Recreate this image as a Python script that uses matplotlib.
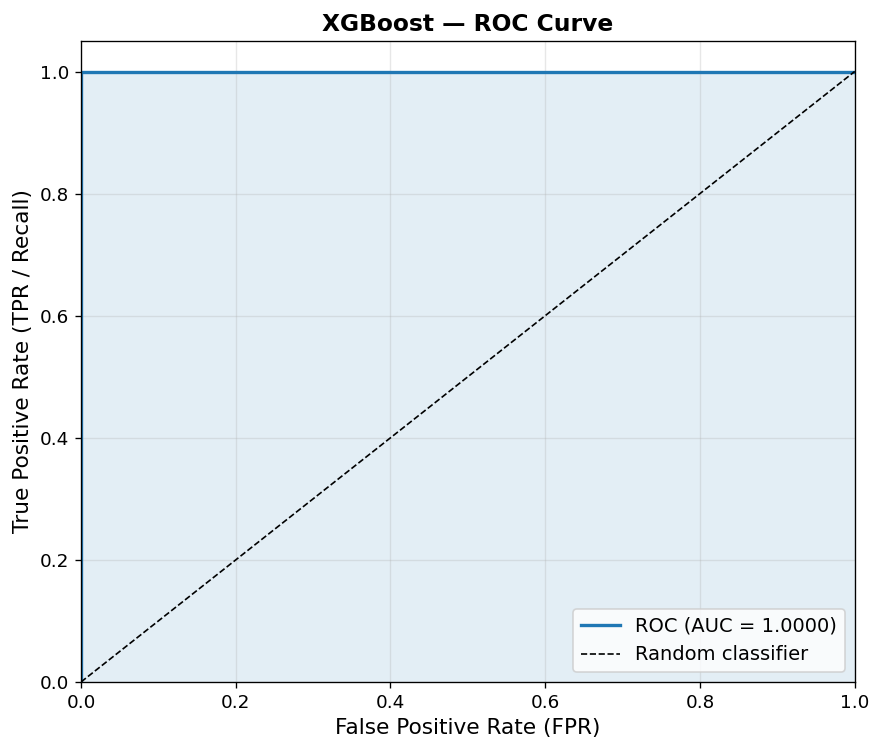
import matplotlib
matplotlib.use("Agg")
import matplotlib.pyplot as plt

fpr = [0.0, 0.0, 1.0]
tpr = [0.0, 1.0, 1.0]
diag_x = [0.0, 1.0]
diag_y = [0.0, 1.0]
auc = 1.0
ticks = [0.0, 0.2, 0.4, 0.6, 0.8, 1.0]

fig = plt.figure(figsize=(8.73 / 1.2, 7.4 / 1.2), dpi=120)
ax = fig.add_axes([0.0928, 0.0784, 0.8862, 0.8662])

ax.plot(fpr, tpr, color="#1f77b4", lw=2, label=f"ROC (AUC = {auc:.4f})")
ax.fill_between(fpr, tpr, color="#1f77b4", alpha=0.12, linewidth=0)
ax.plot(diag_x, diag_y, "k--", lw=1, label="Random classifier")

ax.set_xlim(0, 1)
ax.set_ylim(0, 1.05)
ax.set_xticks(ticks)
ax.set_yticks(ticks)
ax.tick_params(labelsize=11)
ax.grid(True, alpha=0.3)
ax.set_xlabel("False Positive Rate (FPR)", fontsize=13)
ax.set_ylabel("True Positive Rate (TPR / Recall)", fontsize=13)
ax.set_title("XGBoost — ROC Curve", fontsize=14, fontweight="bold")
ax.legend(loc="lower right", fontsize=11.7)

fig.savefig("out.png", dpi=120)
